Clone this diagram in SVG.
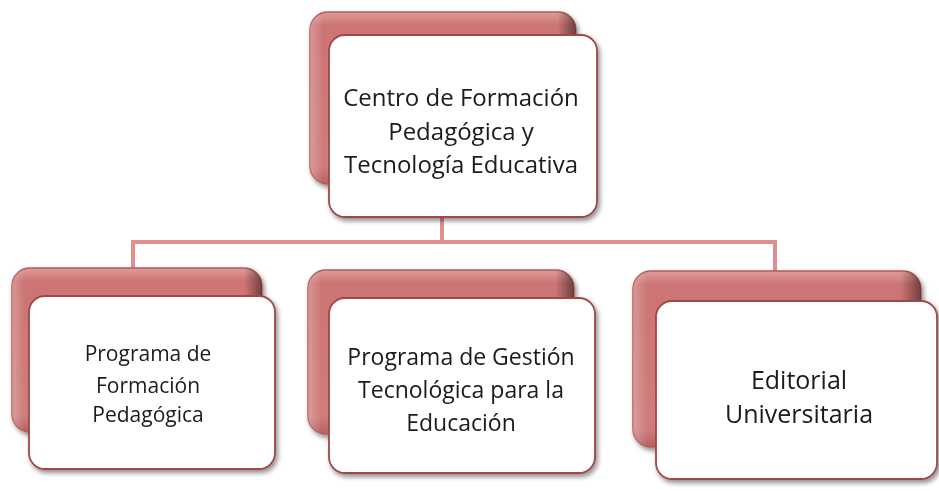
<svg xmlns="http://www.w3.org/2000/svg" width="939" height="491" viewBox="0 0 939 491">
<defs>
<linearGradient id="backG" x1="0" y1="0" x2="0" y2="1">
<stop offset="0" stop-color="#e09a9a"/>
<stop offset="0.08" stop-color="#cc7474"/>
<stop offset="0.9" stop-color="#cf7c7c"/>
<stop offset="1" stop-color="#b86060"/>
</linearGradient>
<linearGradient id="backH" x1="0" y1="0" x2="1" y2="0">
<stop offset="0" stop-color="#ffffff" stop-opacity="0.25"/>
<stop offset="0.05" stop-color="#ffffff" stop-opacity="0"/>
<stop offset="0.93" stop-color="#000000" stop-opacity="0"/>
<stop offset="1" stop-color="#000000" stop-opacity="0.45"/>
</linearGradient>
<filter id="sh" x="-10%" y="-10%" width="125%" height="125%">
<feGaussianBlur in="SourceAlpha" stdDeviation="2.5"/>
<feOffset dx="2" dy="3" result="b"/>
<feComponentTransfer><feFuncA type="linear" slope="0.45"/></feComponentTransfer>
<feMerge><feMergeNode/><feMergeNode in="SourceGraphic"/></feMerge>
</filter>
</defs>
<style>
.back{fill:url(#backG);stroke:#b25c5c;stroke-width:1.5}
.backh{fill:url(#backH)}
.front{fill:#ffffff;stroke:#a14646;stroke-width:1.8}
.conn{fill:none;stroke:#e28e8e;stroke-width:4}
text{font-family:"Open Sans","Liberation Sans",sans-serif;fill:#1a1a1a;text-anchor:middle}
</style>
<g id="connectors">
<path class="conn" d="M442 218 V242 M133 242 H775 M133 240 V270 M775 240 V272"/>
</g>
<g id="node-top" filter="url(#sh)">
<rect class="back" x="310" y="12" width="266" height="172" rx="18"/>
<rect class="backh" x="310" y="12" width="266" height="172" rx="18"/>
<rect class="front" x="329" y="35" width="268" height="182" rx="16"/>
<text x="461" y="106" font-size="24">Centro de Formación</text>
<text x="461" y="140" font-size="24">Pedagógica y</text>
<text x="461" y="173" font-size="24">Tecnología Educativa</text>
</g>
<g id="node-left" filter="url(#sh)">
<rect class="back" x="12" y="268" width="250" height="164" rx="18"/>
<rect class="backh" x="12" y="268" width="250" height="164" rx="18"/>
<rect class="front" x="29" y="296" width="246" height="173" rx="16"/>
<text x="148" y="361" font-size="21">Programa de</text>
<text x="148" y="393" font-size="21">Formación</text>
<text x="148" y="422" font-size="21">Pedagógica</text>
</g>
<g id="node-mid" filter="url(#sh)">
<rect class="back" x="308" y="270" width="266" height="164" rx="18"/>
<rect class="backh" x="308" y="270" width="266" height="164" rx="18"/>
<rect class="front" x="329" y="298" width="266" height="175" rx="16"/>
<text x="461" y="365" font-size="23">Programa de Gestión</text>
<text x="461" y="398" font-size="23">Tecnológica para la</text>
<text x="461" y="431" font-size="23">Educación</text>
</g>
<g id="node-right" filter="url(#sh)">
<rect class="back" x="633" y="271" width="288" height="176" rx="18"/>
<rect class="backh" x="633" y="271" width="288" height="176" rx="18"/>
<rect class="front" x="656" y="301" width="281" height="178" rx="16"/>
<text x="799" y="389" font-size="25">Editorial</text>
<text x="799" y="423" font-size="25">Universitaria</text>
</g>
</svg>
